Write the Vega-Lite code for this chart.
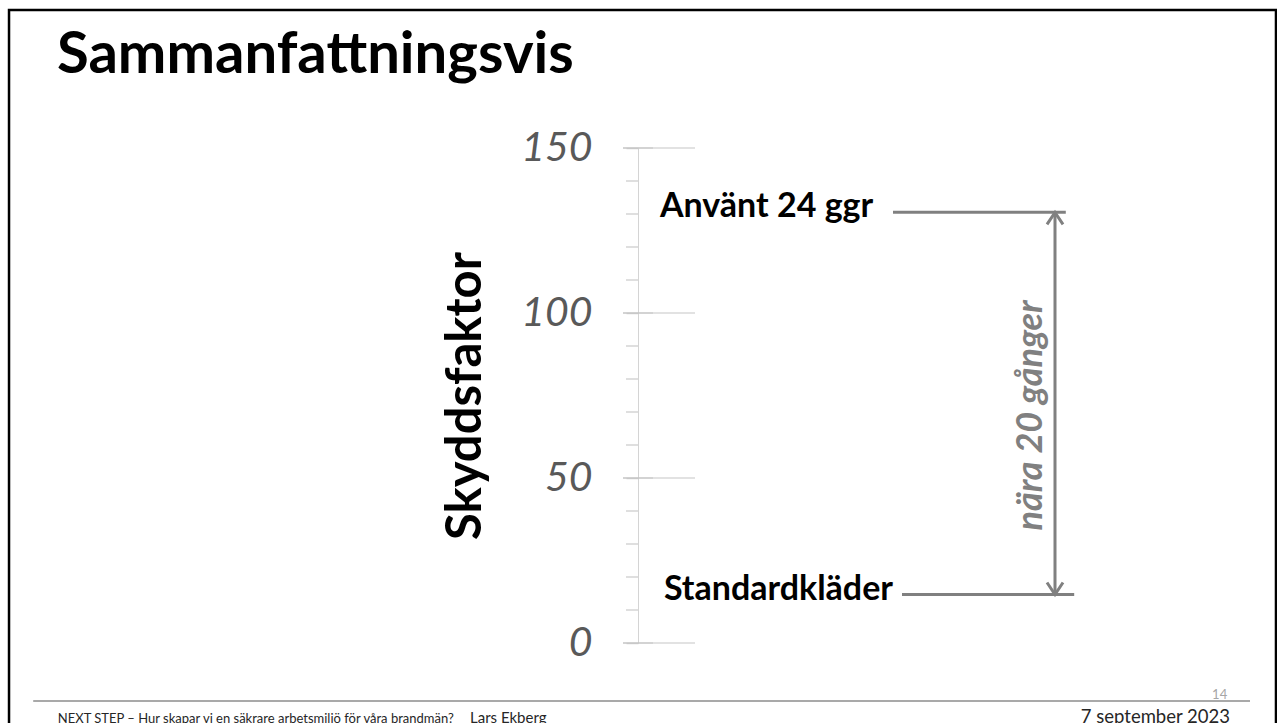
{
  "$schema": "https://vega.github.io/schema/vega-lite/v6.json",
  "width": 600,
  "height": 495,
  "autosize": {"type": "none"},
  "padding": {"left": 638, "top": 148, "right": 39, "bottom": 80},
  "background": "white",
  "title": {"text": "Sammanfattningsvis", "anchor": "start", "frame": "group", "orient": "top", "font": "Lato", "fontSize": 58, "fontWeight": "bold", "color": "black", "baseline": "alphabetic", "offset": 0, "dx": -581, "dy": 122},
  "config": {"view": {"stroke": null}},
  "data": {"values": [
    {"kategori": "Använt 24 ggr", "skyddsfaktor": 130.5},
    {"kategori": "Standardkläder", "skyddsfaktor": 14.7}
  ]},
  "layer": [
    {
      "data": {"values": [{"ram": "bildram"}]},
      "mark": {"type": "rect", "filled": false, "stroke": "black", "strokeWidth": 2.5, "clip": false},
      "encoding": {
        "x": {"datum": -104.83, "type": "quantitative", "scale": {"domain": [0, 100]}, "axis": null},
        "x2": {"datum": 106.33},
        "y": {"datum": 191.8, "type": "quantitative", "scale": {"domain": [0, 150]}, "axis": {
          "values": [0, 50, 100, 150],
          "grid": false, "domainColor": "#d4d4d4", "domainWidth": 1, "tickColor": "#d4d4d4", "tickWidth": 1.5, "tickSize": 12,
          "labelFont": "Lato", "labelFontSize": 41, "labelFontStyle": "italic", "labelColor": "#595959", "labelPadding": 34, "labelOverlap": false,
          "title": "Skyddsfaktor", "titleFont": "Lato", "titleFontSize": 49, "titleFontWeight": "bold", "titleColor": "black", "titlePadding": 30
        }},
        "y2": {"datum": -35.5}
      }
    },
    {
      "data": {"values": [{"tick": 10}, {"tick": 20}, {"tick": 30}, {"tick": 40}, {"tick": 60}, {"tick": 70}, {"tick": 80}, {"tick": 90}, {"tick": 110}, {"tick": 120}, {"tick": 130}, {"tick": 140}]},
      "mark": {"type": "rule", "color": "#d4d4d4", "strokeWidth": 1.5, "clip": false},
      "encoding": {
        "x": {"datum": -2, "type": "quantitative", "scale": {"domain": [0, 100]}, "axis": null},
        "x2": {"datum": 0},
        "y": {"field": "tick", "type": "quantitative", "scale": {"domain": [0, 150]}}
      }
    },
    {
      "data": {"values": [{"tick": 0}, {"tick": 50}, {"tick": 100}, {"tick": 150}]},
      "mark": {"type": "rule", "color": "#d9d9d9", "strokeWidth": 1.5},
      "encoding": {
        "x": {"datum": 2.5, "type": "quantitative", "scale": {"domain": [0, 100]}, "axis": null},
        "x2": {"datum": 9.5},
        "y": {"field": "tick", "type": "quantitative", "scale": {"domain": [0, 150]}}
      }
    },
    {
      "data": {"values": [{"tick": 0}, {"tick": 50}, {"tick": 100}, {"tick": 150}]},
      "mark": {"type": "rule", "color": "#c4c4c4", "strokeWidth": 1.5, "clip": false},
      "encoding": {
        "x": {"datum": -2.5, "type": "quantitative", "scale": {"domain": [0, 100]}, "axis": null},
        "x2": {"datum": 2.5},
        "y": {"field": "tick", "type": "quantitative", "scale": {"domain": [0, 150]}}
      }
    },
    {
      "transform": [{"filter": "datum.kategori === 'Använt 24 ggr'"}],
      "mark": {"type": "rule", "color": "#808080", "strokeWidth": 3},
      "encoding": {
        "x": {"datum": 42.5, "type": "quantitative", "scale": {"domain": [0, 100]}, "axis": null},
        "x2": {"datum": 71.3},
        "y": {"field": "skyddsfaktor", "type": "quantitative", "scale": {"domain": [0, 150]}}
      }
    },
    {
      "transform": [{"filter": "datum.kategori === 'Standardkläder'"}],
      "mark": {"type": "rule", "color": "#808080", "strokeWidth": 3},
      "encoding": {
        "x": {"datum": 44, "type": "quantitative", "scale": {"domain": [0, 100]}, "axis": null},
        "x2": {"datum": 72.7},
        "y": {"field": "skyddsfaktor", "type": "quantitative", "scale": {"domain": [0, 150]}}
      }
    },
    {
      "transform": [{"filter": "datum.kategori === 'Använt 24 ggr'"}],
      "mark": {"type": "text", "font": "Lato", "fontSize": 34, "fontWeight": "bold", "color": "black", "align": "right", "baseline": "middle", "dy": -5},
      "encoding": {
        "x": {"datum": 39.2, "type": "quantitative", "scale": {"domain": [0, 100]}, "axis": null},
        "y": {"field": "skyddsfaktor", "type": "quantitative", "scale": {"domain": [0, 150]}},
        "text": {"field": "kategori"}
      }
    },
    {
      "transform": [{"filter": "datum.kategori === 'Standardkläder'"}],
      "mark": {"type": "text", "font": "Lato", "fontSize": 34, "fontWeight": "bold", "color": "black", "align": "right", "baseline": "middle", "dy": -4},
      "encoding": {
        "x": {"datum": 42.5, "type": "quantitative", "scale": {"domain": [0, 100]}, "axis": null},
        "y": {"field": "skyddsfaktor", "type": "quantitative", "scale": {"domain": [0, 150]}},
        "text": {"field": "kategori"}
      }
    },
    {
      "transform": [{"aggregate": [{"op": "min", "field": "skyddsfaktor", "as": "lag"}, {"op": "max", "field": "skyddsfaktor", "as": "hog"}]}],
      "mark": {"type": "rule", "color": "#808080", "strokeWidth": 3},
      "encoding": {
        "x": {"datum": 69.5, "type": "quantitative", "scale": {"domain": [0, 100]}, "axis": null},
        "y": {"field": "lag", "type": "quantitative", "scale": {"domain": [0, 150]}},
        "y2": {"field": "hog"}
      }
    },
    {
      "transform": [{"filter": "datum.kategori === 'Använt 24 ggr'"}],
      "mark": {"type": "point", "shape": "M-1,1.5L0,0L1,1.5", "size": 256, "filled": false, "stroke": "#808080", "strokeWidth": 3, "opacity": 1},
      "encoding": {
        "x": {"datum": 69.5, "type": "quantitative", "scale": {"domain": [0, 100]}, "axis": null},
        "y": {"field": "skyddsfaktor", "type": "quantitative", "scale": {"domain": [0, 150]}}
      }
    },
    {
      "transform": [{"filter": "datum.kategori === 'Standardkläder'"}],
      "mark": {"type": "point", "shape": "M-1,-1.5L0,0L1,-1.5", "size": 256, "filled": false, "stroke": "#808080", "strokeWidth": 3, "opacity": 1},
      "encoding": {
        "x": {"datum": 69.5, "type": "quantitative", "scale": {"domain": [0, 100]}, "axis": null},
        "y": {"field": "skyddsfaktor", "type": "quantitative", "scale": {"domain": [0, 150]}}
      }
    },
    {
      "data": {"values": [{"text": "nära 20 gånger"}]},
      "mark": {"type": "text", "font": "Lato", "fontSize": 36, "fontWeight": "bold", "fontStyle": "italic", "color": "#808080", "align": "center", "baseline": "middle", "angle": 270},
      "encoding": {
        "x": {"datum": 65.5, "type": "quantitative", "scale": {"domain": [0, 100]}, "axis": null},
        "y": {"datum": 69, "type": "quantitative", "scale": {"domain": [0, 150]}},
        "text": {"field": "text"}
      }
    },
    {
      "data": {"values": [{"linje": "sidfot"}]},
      "mark": {"type": "rule", "color": "#8c8c8c", "strokeWidth": 1.5, "clip": false},
      "encoding": {
        "x": {"datum": -100.8, "type": "quantitative", "scale": {"domain": [0, 100]}, "axis": null},
        "x2": {"datum": 102},
        "y": {"datum": -17.6, "type": "quantitative", "scale": {"domain": [0, 150]}}
      }
    },
    {
      "data": {"values": [{"text": "NEXT STEP – Hur skapar vi en säkrare arbetsmiljö för våra brandmän?"}]},
      "mark": {"type": "text", "font": "Lato", "fontSize": 13, "color": "#262626", "align": "left", "baseline": "alphabetic", "clip": false},
      "encoding": {
        "x": {"datum": -96.7, "type": "quantitative", "scale": {"domain": [0, 100]}, "axis": null},
        "y": {"datum": -24.3, "type": "quantitative", "scale": {"domain": [0, 150]}},
        "text": {"field": "text"}
      }
    },
    {
      "data": {"values": [{"text": "Lars Ekberg"}]},
      "mark": {"type": "text", "font": "Lato", "fontSize": 15, "color": "#262626", "align": "left", "baseline": "alphabetic", "clip": false},
      "encoding": {
        "x": {"datum": -28, "type": "quantitative", "scale": {"domain": [0, 100]}, "axis": null},
        "y": {"datum": -24.3, "type": "quantitative", "scale": {"domain": [0, 150]}},
        "text": {"field": "text"}
      }
    },
    {
      "data": {"values": [{"text": "7 september 2023"}]},
      "mark": {"type": "text", "font": "Lato", "fontSize": 18.5, "color": "#262626", "align": "left", "baseline": "alphabetic", "clip": false},
      "encoding": {
        "x": {"datum": 73.8, "type": "quantitative", "scale": {"domain": [0, 100]}, "axis": null},
        "y": {"datum": -24.3, "type": "quantitative", "scale": {"domain": [0, 150]}},
        "text": {"field": "text"}
      }
    },
    {
      "data": {"values": [{"text": "14"}]},
      "mark": {"type": "text", "font": "Lato", "fontSize": 13, "color": "#a6a6a6", "align": "right", "baseline": "alphabetic", "clip": false},
      "encoding": {
        "x": {"datum": 98.2, "type": "quantitative", "scale": {"domain": [0, 100]}, "axis": null},
        "y": {"datum": -16.9, "type": "quantitative", "scale": {"domain": [0, 150]}},
        "text": {"field": "text"}
      }
    }
  ]
}
